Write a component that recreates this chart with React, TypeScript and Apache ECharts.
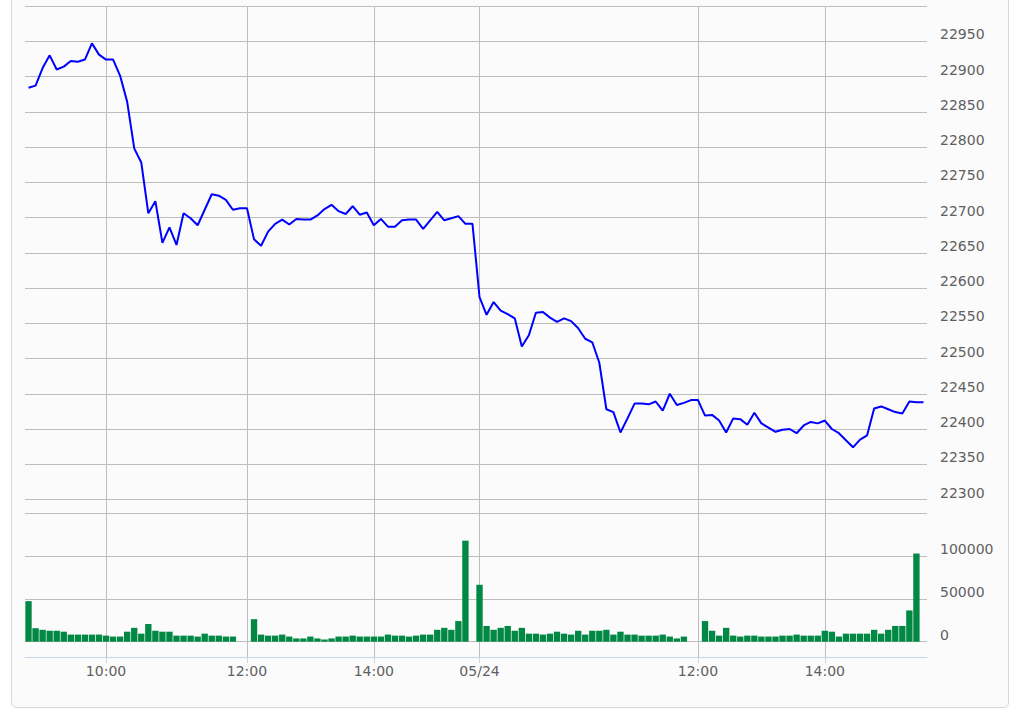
import React, { useEffect, useRef } from "react";
import * as echarts from "echarts";

// ---- data -------------------------------------------------------------
const dates = ["05/23", "05/24"];
// clock labels shown on each day's part of the axis (the day's first slot shows its date, except day one)
const dayClockTicks = [
  ["10:00", "12:00", "14:00"],
  ["12:00", "14:00"],
];

const priceDay1 = [
  22884, 22887, 22912, 22930, 22910, 22914, 22922, 22921, 22924, 22947,
  22931, 22924, 22924, 22901, 22864, 22798, 22778, 22706, 22723, 22664,
  22686, 22661, 22706, 22699, 22689, 22711, 22733, 22731, 22725, 22711,
  22713, 22713, 22669, 22660, 22680, 22691, 22697, 22690, 22698, 22697,
  22697, 22703, 22712, 22718, 22709, 22705, 22716, 22704, 22707, 22689,
  22698, 22687, 22687, 22696, 22697, 22697, 22684, 22696, 22708, 22696,
  22699, 22702, 22691, 22691,
];
const priceDay2 = [
  22587, 22562, 22580, 22568, 22563, 22557, 22517, 22533, 22565, 22566,
  22558, 22552, 22557, 22553, 22543, 22528, 22523, 22494, 22428, 22424,
  22395, 22415, 22436, 22436, 22435, 22439, 22426, 22450, 22434, 22437,
  22441, 22441, 22419, 22420, 22412, 22395, 22415, 22414, 22406, 22423,
  22408, 22402, 22396, 22399, 22400, 22394, 22405, 22410, 22408, 22412,
  22400, 22394, 22384, 22374, 22385, 22391, 22429, 22432, 22428, 22424,
  22422, 22439, 22438, 22438,
];
const volumeDay1 = [
  47400, 15800, 13900, 12800, 12800, 11700, 8300, 8300, 8300, 8300,
  8300, 7100, 6000, 6000, 11700, 16200, 9400, 20700, 12800, 11700,
  11700, 7100, 7100, 7100, 6000, 9400, 7100, 7100, 6000, 6000,
  0, 0, 26300, 8300, 7100, 7100, 8300, 6000, 3800, 3800,
  6000, 3800, 2600, 3800, 6000, 6000, 7100, 6000, 6000, 6000,
  6000, 8300, 7100, 7100, 6000, 7100, 8300, 8300, 13900, 16200,
  13900, 24100, 118000, 0,
];
const volumeDay2 = [
  66500, 18400, 13900, 16200, 18400, 12800, 16200, 9400, 9400, 8300,
  9400, 11700, 9400, 8300, 12800, 8300, 12800, 12800, 13900, 8300,
  11700, 8300, 8300, 7100, 7100, 7100, 8300, 6000, 3800, 6000,
  0, 0, 24100, 12800, 7100, 16200, 7100, 6000, 7100, 7100,
  6000, 6000, 6000, 7100, 7100, 8300, 7100, 7100, 7100, 12800,
  11700, 6000, 9400, 9400, 9400, 9400, 13900, 9400, 13900, 18400,
  18400, 36500, 103000, 0,
];

// session clock of one trading day (5-minute slots, lunch and close placeholders)
function slotTimes(startMin: number, endMin: number): string[] {
  const out: string[] = [];
  for (let m = startMin; m <= endMin; m += 5) {
    const h = Math.floor(m / 60);
    const mm = m % 60;
    out.push(`${String(h).padStart(2, "0")}:${String(mm).padStart(2, "0")}`);
  }
  return out;
}
const sessionClock = [
  ...slotTimes(9 * 60 + 5, 11 * 60 + 30),
  "11:45",
  "12:00",
  ...slotTimes(12 * 60 + 35, 15 * 60),
  "15:00 close",
  "15:15",
];
const categories = dates.flatMap((d) => sessionClock.map((c) => `${d} ${c}`));
const prices = [...priceDay1, ...priceDay2];
const volumes = [...volumeDay1, ...volumeDay2];

const perDay = sessionClock.length;
function tickText(i: number): string {
  const day = Math.floor(i / perDay);
  const k = i % perDay;
  if (k === 0 && day > 0) return dates[day];
  const c = sessionClock[k];
  return dayClockTicks[day].includes(c) ? c : "";
}
const isTick = (i: number) => tickText(i) !== "";

// ---- styles -----------------------------------------------------------
const gridColor = "#bdbdbd";
const axisBlue = "#ccd6eb";
const labelColor = "#606060";
const font = "DejaVu Sans";

export default function App() {
  const ref = useRef<HTMLDivElement>(null);
  useEffect(() => {
    if (!ref.current) return;
    const chart = echarts.init(ref.current, undefined, { renderer: "svg" });
    const splitX = {
      show: true,
      interval: (i: number) => isTick(i),
      alignWithLabel: true,
      lineStyle: { color: gridColor, width: 1 },
    };
    chart.setOption({
      animation: false,
      backgroundColor: "transparent",
      grid: [
        { left: 25, right: 99, top: 6, height: 493.5 },
        { left: 25, right: 99, top: 499.5, height: 157.5 },
      ],
      xAxis: [
        {
          type: "category",
          gridIndex: 0,
          data: categories,
          boundaryGap: true,
          axisLine: { show: false },
          axisTick: { show: false },
          axisLabel: { show: false },
          splitLine: splitX,
        },
        {
          type: "category",
          gridIndex: 1,
          data: categories,
          boundaryGap: true,
          axisLine: { show: true, onZero: false, lineStyle: { color: axisBlue, width: 1 } },
          axisTick: {
            show: true,
            alignWithLabel: true,
            interval: (i: number) => isTick(i),
            length: 6,
            lineStyle: { color: axisBlue },
          },
          axisLabel: {
            interval: (i: number) => isTick(i),
            formatter: (_v: string, i: number) => tickText(i),
            color: labelColor,
            fontFamily: font,
            fontSize: 14,
            margin: 7,
          },
          splitLine: splitX,
        },
      ],
      yAxis: [
        {
          type: "value",
          gridIndex: 0,
          position: "right",
          min: 22300,
          max: 23000,
          interval: 50,
          axisLine: { show: false },
          axisTick: { show: false },
          splitLine: { show: true, lineStyle: { color: gridColor, width: 1 } },
          axisLabel: {
            showMaxLabel: false,
            formatter: (v: number) => String(v),
            verticalAlign: "bottom",
            margin: 13,
            color: labelColor,
            fontFamily: font,
            fontSize: 14,
          },
        },
        {
          type: "value",
          gridIndex: 1,
          position: "right",
          min: -17870,
          max: 166120,
          splitNumber: 3,
          axisLine: { show: false },
          axisTick: { show: false },
          splitLine: { show: true, lineStyle: { color: gridColor, width: 1 } },
          axisLabel: {
            formatter: (v: number) => (v < 0 || v > 100000 ? "" : String(v)),
            verticalAlign: "bottom",
            margin: 13,
            color: labelColor,
            fontFamily: font,
            fontSize: 14,
          },
        },
      ],
      series: [
        {
          type: "line",
          xAxisIndex: 0,
          yAxisIndex: 0,
          data: prices,
          symbol: "none",
          lineStyle: { color: "#0000ff", width: 2 },
        },
        {
          type: "bar",
          xAxisIndex: 1,
          yAxisIndex: 1,
          data: volumes,
          barWidth: "90%",
          itemStyle: { color: "#008844" },
        },
      ],
    });
    return () => chart.dispose();
  }, []);

  return (
    <div style={{ position: "fixed", left: 0, top: 0, width: 1026, height: 726, background: "#ffffff", overflow: "hidden" }}>
      <div
        style={{
          position: "absolute",
          left: 11,
          top: -10,
          width: 998,
          height: 718,
          boxSizing: "border-box",
          border: "1px solid #d3d9e2",
          borderRadius: 5,
          background: "#fbfbfb",
        }}
      />
      <div ref={ref} style={{ position: "absolute", left: 0, top: 0, width: 1026, height: 726 }} />
    </div>
  );
}
